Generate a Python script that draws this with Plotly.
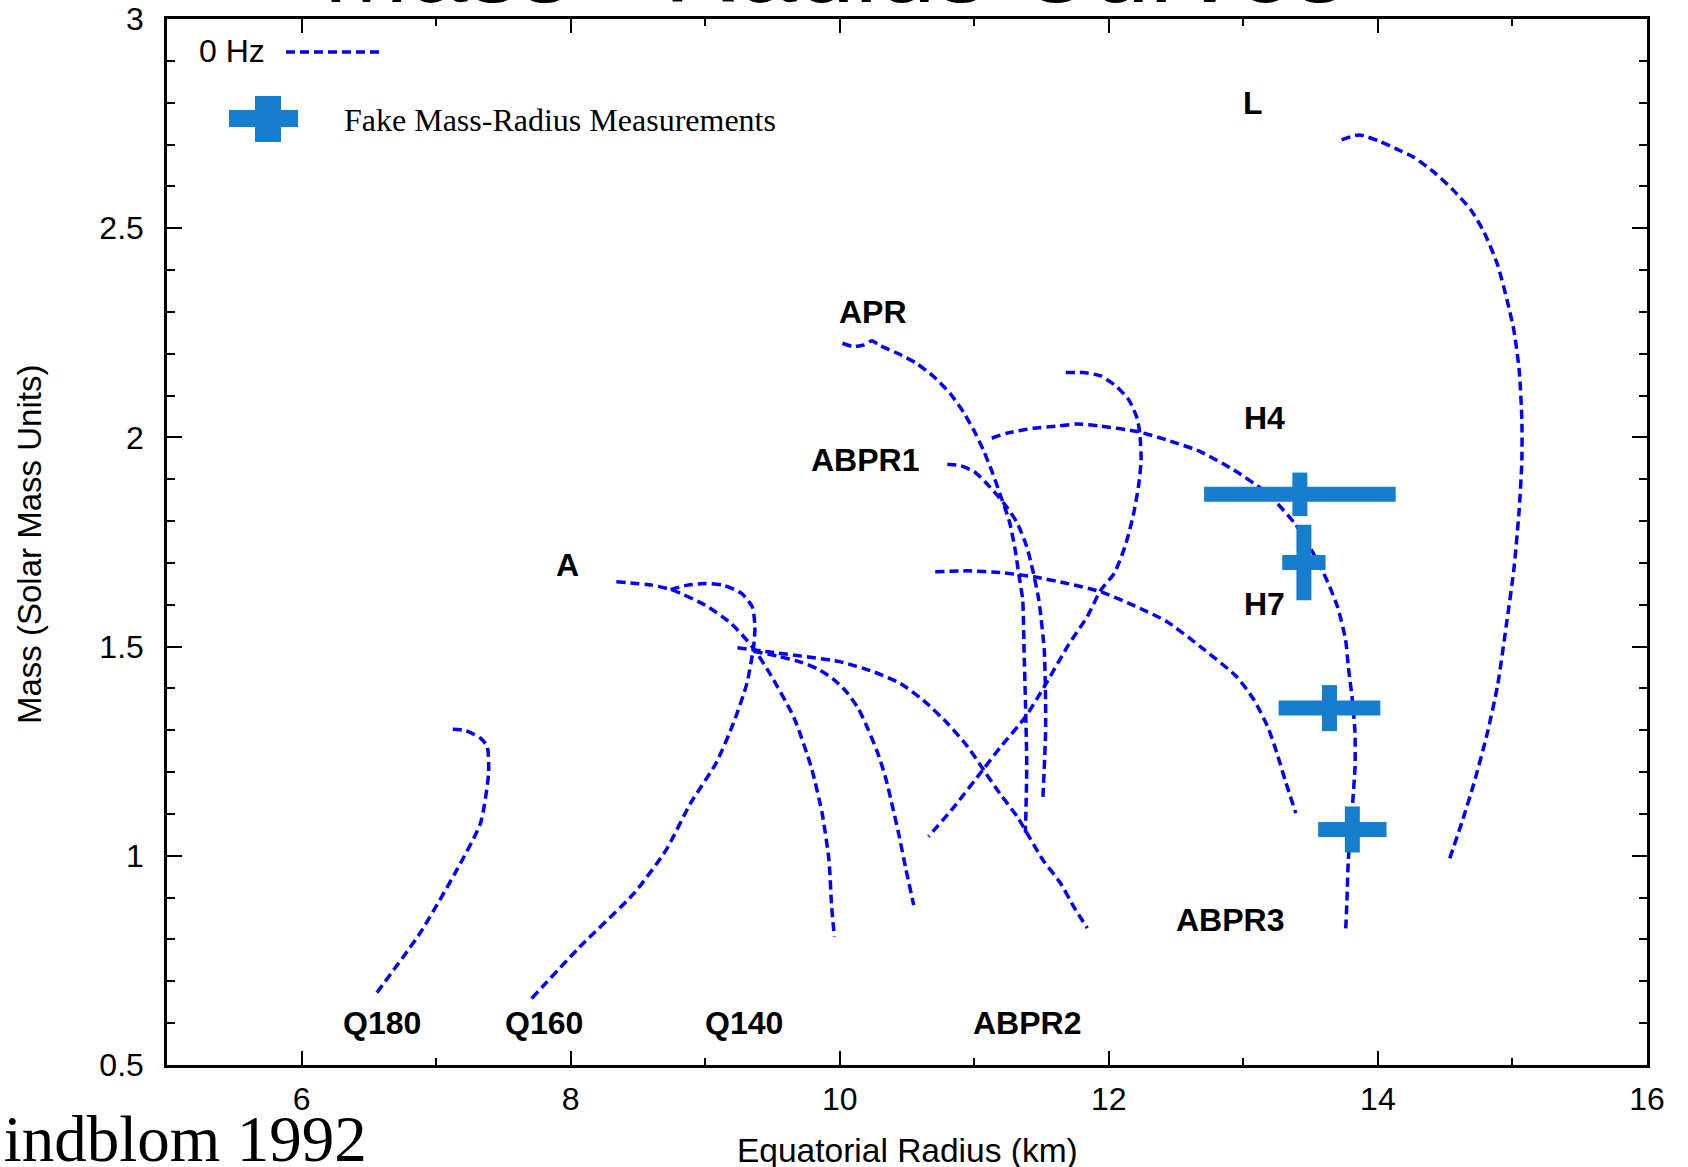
import plotly.graph_objects as go

# ---------------- data (equatorial radius in km, mass in solar masses) ----------------
q180_r = [6.56, 6.88, 7.14, 7.33, 7.39, 7.38, 7.33, 7.22, 7.09]
q180_m = [0.673, 0.815, 0.958, 1.078, 1.197, 1.261, 1.281, 1.299, 1.303]

q160_r = [7.71, 8.07, 8.47, 8.71, 8.89, 9.08, 9.21, 9.31, 9.36, 9.37, 9.35, 9.27, 9.13, 9.00, 8.87, 8.73]
q160_m = [0.659, 0.783, 0.910, 1.014, 1.125, 1.221, 1.317, 1.412, 1.500, 1.548, 1.595, 1.627, 1.647, 1.651, 1.647, 1.635]

a_r = [8.34, 8.60, 8.76, 9.00, 9.19, 9.35, 9.48, 9.66, 9.79, 9.87, 9.92, 9.94, 9.96]
a_m = [1.655, 1.647, 1.635, 1.599, 1.556, 1.500, 1.436, 1.330, 1.210, 1.100, 0.990, 0.878, 0.807]

q140_r = [9.36, 9.54, 9.71, 9.84, 9.95, 10.05, 10.14, 10.21, 10.28, 10.34, 10.39, 10.44, 10.49, 10.55]
q140_m = [1.489, 1.477, 1.463, 1.446, 1.423, 1.392, 1.351, 1.303, 1.248, 1.188, 1.121, 1.050, 0.971, 0.882]

abpr2_r = [9.24, 9.48, 10.00, 10.25, 10.45, 10.62, 10.80, 10.95, 11.07, 11.19, 11.32, 11.51, 11.64, 11.74, 11.84]
abpr2_m = [1.497, 1.487, 1.464, 1.440, 1.412, 1.372, 1.317, 1.261, 1.205, 1.149, 1.093, 0.990, 0.935, 0.878, 0.827]

apr_r = [10.02, 10.10, 10.18, 10.24, 10.29, 10.43, 10.57, 10.70, 10.82, 10.92, 11.00, 11.07, 11.13,
         11.19, 11.26, 11.30, 11.33, 11.36, 11.37, 11.38, 11.39, 11.38]
apr_m = [2.225, 2.217, 2.221, 2.231, 2.221, 2.201, 2.177, 2.145, 2.105, 2.060, 2.015, 1.968, 1.920,
         1.866, 1.800, 1.739, 1.675, 1.611, 1.492, 1.372, 1.215, 1.055]

abpr1_r = [10.80, 10.90, 11.00, 11.08, 11.17, 11.24, 11.32, 11.39, 11.44, 11.48, 11.52, 11.53, 11.53, 11.51]
abpr1_m = [1.936, 1.932, 1.918, 1.894, 1.862, 1.834, 1.795, 1.739, 1.675, 1.611, 1.492, 1.372, 1.293, 1.138]

loop_r = [11.68, 11.81, 11.94, 12.06, 12.15, 12.21, 12.23, 12.24, 12.22, 12.18, 12.12, 12.04, 11.94,
          11.84, 11.70, 11.52, 11.38, 11.19, 11.07, 10.85, 10.66]
loop_m = [2.155, 2.155, 2.147, 2.121, 2.089, 2.046, 2.010, 1.946, 1.882, 1.811, 1.739, 1.675, 1.635,
          1.572, 1.504, 1.404, 1.332, 1.258, 1.208, 1.117, 1.046]

h4_r = [11.13, 11.24, 11.44, 11.62, 11.76, 11.94, 12.21, 12.43, 12.68, 12.93, 13.13, 13.25, 13.39,
        13.52, 13.62, 13.70, 13.76, 13.78, 13.81, 13.83, 13.83, 13.81, 13.78, 13.77, 13.76]
h4_m = [1.998, 2.010, 2.022, 2.027, 2.032, 2.027, 2.014, 1.994, 1.966, 1.922, 1.878, 1.843, 1.791,
        1.723, 1.659, 1.595, 1.516, 1.452, 1.372, 1.293, 1.213, 1.117, 0.990, 0.894, 0.820]

h7_r = [10.71, 10.95, 11.19, 11.44, 11.69, 11.94, 12.18, 12.43, 12.68, 12.95, 13.08, 13.18, 13.25, 13.31, 13.39]
h7_m = [1.679, 1.681, 1.677, 1.667, 1.651, 1.631, 1.599, 1.560, 1.500, 1.428, 1.372, 1.309, 1.245, 1.181, 1.102]

l_r = [13.73, 13.86, 14.01, 14.14, 14.27, 14.42, 14.56, 14.69, 14.79, 14.89, 14.96, 15.01, 15.05,
       15.07, 15.07, 15.05, 15.01, 14.96, 14.89, 14.81, 14.71, 14.63, 14.53]
l_m = [2.711, 2.723, 2.708, 2.689, 2.669, 2.633, 2.591, 2.544, 2.490, 2.412, 2.328, 2.257, 2.161,
       2.042, 1.946, 1.827, 1.683, 1.564, 1.408, 1.289, 1.169, 1.086, 0.990]

# fake mass-radius measurements (centre, symmetric errors)
meas_r = [13.42, 13.45, 13.64, 13.81]
meas_m = [1.864, 1.701, 1.353, 1.063]
meas_r_err = [0.712, 0.161, 0.378, 0.254]
meas_m_err = [0.052, 0.090, 0.055, 0.055]

# curve labels
label_text = ["L", "APR", "ABPR1", "A", "H4", "H7", "ABPR3", "Q180", "Q160", "Q140", "ABPR2"]
label_r = [13.07, 10.25, 10.19, 7.98, 13.16, 13.16, 12.90, 6.60, 7.80, 9.29, 11.39]
label_m = [2.800, 2.300, 1.945, 1.696, 2.046, 1.602, 0.847, 0.600, 0.600, 0.600, 0.600]

x_ticks = [6, 8, 10, 12, 14, 16]
y_ticks = [0.5, 1, 1.5, 2, 2.5, 3]

# ---------------- styling ----------------
BLUE = "#0000ff"
CROSS = "#177dcd"
SANS = "Liberation Sans, Arial, Helvetica, sans-serif"
SERIF = "Liberation Serif, Times New Roman, serif"
W, H = 1688, 1167
ML, MR, MT, MB = 167, 41, 19, 102
PW, PH = W - ML - MR, H - MT - MB


def px_x(p):
    return (p - ML) / PW


def px_y(p):
    return (H - MB - p) / PH


fig = go.Figure()

curves = [(q180_r, q180_m), (q160_r, q160_m), (a_r, a_m), (q140_r, q140_m), (abpr2_r, abpr2_m),
          (apr_r, apr_m), (abpr1_r, abpr1_m), (loop_r, loop_m), (h4_r, h4_m), (h7_r, h7_m), (l_r, l_m)]
for r, m in curves:
    fig.add_trace(go.Scatter(
        x=r, y=m, mode="lines",
        line=dict(color=BLUE, width=3.5, dash="9px,5px", shape="spline", smoothing=0.6),
        showlegend=False, hoverinfo="skip"))

fig.add_trace(go.Scatter(
    x=meas_r, y=meas_m, mode="markers",
    marker=dict(size=2, color=CROSS, opacity=0),
    error_x=dict(type="data", array=meas_r_err, color=CROSS, thickness=15, width=0),
    error_y=dict(type="data", array=meas_m_err, color=CROSS, thickness=15, width=0),
    showlegend=False, hoverinfo="skip"))

annotations = []
for t, r, m in zip(label_text, label_r, label_m):
    annotations.append(dict(x=r, y=m, xref="x", yref="y", text="<b>%s</b>" % t, showarrow=False,
                            xanchor="center", yanchor="middle",
                            font=dict(family=SANS, size=32, color="black")))

# cut-off title at the very top
annotations.append(dict(x=px_x(834), y=px_y(-34), xref="paper", yref="paper",
                        text="Mass - Radius Curves", showarrow=False, xanchor="center", yanchor="middle",
                        font=dict(family=SANS, size=104, color="black")))
# citation bottom-left
annotations.append(dict(x=px_x(369), y=px_y(1139), xref="paper", yref="paper",
                        text="Lindblom 1992", showarrow=False, xanchor="right", yanchor="middle",
                        font=dict(family=SERIF, size=65, color="black")))
# axis titles
annotations.append(dict(x=0.5, y=px_y(1150), xref="paper", yref="paper",
                        text="Equatorial Radius (km)", showarrow=False, xanchor="center", yanchor="middle",
                        font=dict(family=SANS, size=33.5, color="black")))
annotations.append(dict(x=px_x(29), y=px_y(545), xref="paper", yref="paper", textangle=-90,
                        text="Mass (Solar Mass Units)", showarrow=False, xanchor="center", yanchor="middle",
                        font=dict(family=SANS, size=33, color="black")))
# legend texts
annotations.append(dict(x=px_x(197), y=px_y(51), xref="paper", yref="paper",
                        text="0 Hz", showarrow=False, xanchor="left", yanchor="middle",
                        font=dict(family=SANS, size=32, color="black")))
annotations.append(dict(x=px_x(342), y=px_y(120), xref="paper", yref="paper",
                        text="Fake Mass-Radius Measurements", showarrow=False, xanchor="left", yanchor="middle",
                        font=dict(family=SERIF, size=32, color="black")))

shapes = [
    dict(type="line", xref="paper", yref="paper", x0=px_x(286), x1=px_x(381), y0=px_y(52), y1=px_y(52),
         line=dict(color=BLUE, width=3.5, dash="9px,5px")),
    dict(type="rect", xref="paper", yref="paper", x0=px_x(229), x1=px_x(298), y0=px_y(127), y1=px_y(110),
         fillcolor=CROSS, line=dict(width=0)),
    dict(type="rect", xref="paper", yref="paper", x0=px_x(255), x1=px_x(281), y0=px_y(142), y1=px_y(96),
         fillcolor=CROSS, line=dict(width=0)),
]

axis_common = dict(showline=True, linewidth=2.5, linecolor="black", mirror="allticks",
                   ticks="inside", tickwidth=2, tickcolor="black", showgrid=False, zeroline=False,
                   tickfont=dict(family=SANS, size=32, color="black"))

fig.update_layout(
    width=W, height=H,
    margin=dict(l=ML, r=MR, t=MT, b=MB, autoexpand=False),
    paper_bgcolor="white", plot_bgcolor="white",
    showlegend=False,
    xaxis=dict(range=[5, 16], tickmode="array", tickvals=x_ticks, ticktext=[str(v) for v in x_ticks],
               ticklen=14, ticklabelstandoff=4,
               minor=dict(dtick=1, tick0=5, ticks="inside", ticklen=7, tickwidth=2, tickcolor="black",
                          showgrid=False),
               **axis_common),
    yaxis=dict(range=[0.5, 3], tickmode="array", tickvals=y_ticks, ticktext=["0.5", "1", "1.5", "2", "2.5", "3"],
               ticklen=15, ticklabelstandoff=14,
               minor=dict(dtick=0.1, tick0=0.5, ticks="inside", ticklen=8, tickwidth=2, tickcolor="black",
                          showgrid=False),
               **axis_common),
    annotations=annotations,
    shapes=shapes,
)

fig.write_html("out.html")
